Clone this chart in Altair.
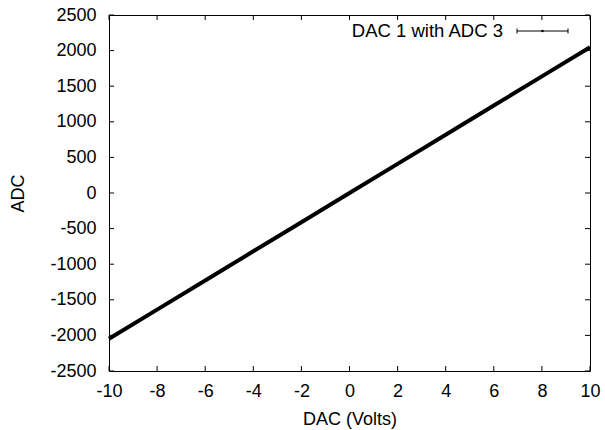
import altair as alt
import pandas as pd

# Data
dac_volts = [-10, -8, -6, -4, -2, 0, 2, 4, 6, 8, 10]
adc_counts = [-2048, -1638, -1229, -819, -410, 0, 409, 819, 1228, 1638, 2047]

x_ticks = [-10, -8, -6, -4, -2, 0, 2, 4, 6, 8, 10]
y_ticks = [-2500, -2000, -1500, -1000, -500, 0, 500, 1000, 1500, 2000, 2500]

legend_label = "DAC 1 with ADC 3"

W, H = 481, 356
FONT = "Liberation Sans"
FS = 18
TICK = 5

df = pd.DataFrame({"dac": dac_volts, "adc": adc_counts})
xt = pd.DataFrame({"t": x_ticks})
yt = pd.DataFrame({"t": y_ticks})

xscale = alt.Scale(domain=[-10, 10], nice=False, zero=False)
yscale = alt.Scale(domain=[-2500, 2500], nice=False, zero=False)

xaxis = alt.Axis(values=x_ticks, grid=False, ticks=False, tickSize=0, domain=False,
                 labelExpr="'' + datum.value", labelOverlap=False, labelFlush=False,
                 labelFont=FONT, labelFontSize=FS, labelColor="black", labelPadding=11,
                 title="DAC (Volts)", titleFont=FONT, titleFontSize=FS,
                 titleFontWeight="normal", titleColor="black", titlePadding=10)
yaxis = alt.Axis(values=y_ticks, grid=False, ticks=False, tickSize=0, domain=False,
                 labelExpr="'' + datum.value", labelOverlap=False, labelFlush=False,
                 labelFont=FONT, labelFontSize=FS, labelColor="black", labelPadding=13,
                 title="ADC", titleFont=FONT, titleFontSize=FS,
                 titleFontWeight="normal", titleColor="black", titlePadding=22)

line = alt.Chart(df).mark_line(color="black", strokeWidth=4).encode(
    x=alt.X("dac:Q", scale=xscale, axis=xaxis),
    y=alt.Y("adc:Q", scale=yscale, axis=yaxis),
)

tick_style = dict(color="black", strokeWidth=1)
bottom_ticks = alt.Chart(xt).mark_rule(**tick_style).encode(
    x=alt.X("t:Q", scale=xscale, axis=xaxis), y=alt.value(H), y2=alt.value(H - TICK))
top_ticks = alt.Chart(xt).mark_rule(**tick_style).encode(
    x=alt.X("t:Q", scale=xscale, axis=xaxis), y=alt.value(0), y2=alt.value(TICK))
left_ticks = alt.Chart(yt).mark_rule(**tick_style).encode(
    y=alt.Y("t:Q", scale=yscale, axis=yaxis), x=alt.value(0), x2=alt.value(TICK))
right_ticks = alt.Chart(yt).mark_rule(**tick_style).encode(
    y=alt.Y("t:Q", scale=yscale, axis=yaxis), x=alt.value(W), x2=alt.value(W - TICK))

leg_df = pd.DataFrame({"label": [legend_label]})
LY = 16
leg_text = alt.Chart(leg_df).mark_text(
    align="right", baseline="middle", font=FONT, fontSize=18.5, color="black"
).encode(text="label:N", x=alt.value(394), y=alt.value(LY))
leg_line = alt.Chart(leg_df).mark_rule(color="black", strokeWidth=1).encode(
    x=alt.value(408), x2=alt.value(459), y=alt.value(LY))
leg_cap1 = alt.Chart(leg_df).mark_rule(color="black", strokeWidth=1).encode(
    x=alt.value(408), y=alt.value(LY - 2.5), y2=alt.value(LY + 2.5))
leg_cap2 = alt.Chart(leg_df).mark_rule(color="black", strokeWidth=1).encode(
    x=alt.value(459), y=alt.value(LY - 2.5), y2=alt.value(LY + 2.5))
leg_dot = alt.Chart(leg_df).mark_point(filled=True, color="black", size=6, opacity=1).encode(
    x=alt.value(433.5), y=alt.value(LY))

chart = alt.layer(
    line, bottom_ticks, top_ticks, left_ticks, right_ticks,
    leg_text, leg_line, leg_cap1, leg_cap2, leg_dot,
).properties(
    width=W, height=H,
    autosize=alt.AutoSizeParams(type="none"),
    padding={"left": 109, "top": 15, "right": 15, "bottom": 59},
    background="white",
).configure_view(stroke="black", strokeWidth=1).configure_axis(labelOverlap=False)

chart.save("out.html", embed_options={"renderer": "svg", "actions": False})
